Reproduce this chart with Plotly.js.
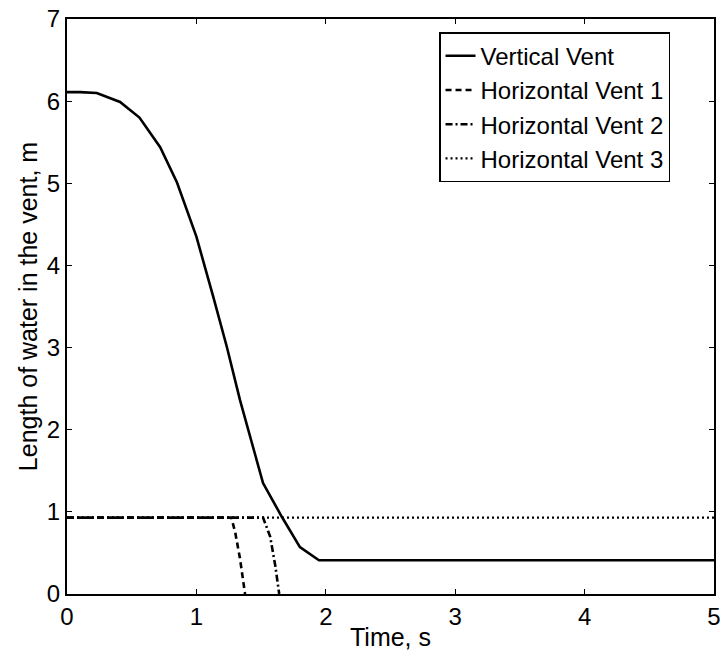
<!DOCTYPE html>
<html>
<head>
<meta charset="utf-8">
<script src="https://cdn.plot.ly/plotly-3.0.1.min.js"></script>
<style>html,body{margin:0;padding:0;background:#fff;}</style>
</head>
<body>
<div id="chart" style="width:723px;height:659px;"></div>
<script>
// Vertical vent
const vertT = [0, 0.1, 0.23, 0.41, 0.56, 0.72, 0.85, 1.0, 1.13, 1.235, 1.337, 1.40, 1.44, 1.515, 1.66, 1.80, 1.947, 5];
const vertL = [6.11, 6.11, 6.10, 5.99, 5.80, 5.44, 5.01, 4.35, 3.62, 3.01, 2.36, 2.0, 1.75, 1.35, 0.94, 0.57, 0.41, 0.41];
// Horizontal vent 1
const h1T = [0, 1.27, 1.30, 1.337, 1.376];
const h1L = [0.93, 0.93, 0.75, 0.43, 0];
// Horizontal vent 2
const h2T = [0, 1.515, 1.57, 1.61, 1.64];
const h2L = [0.93, 0.93, 0.70, 0.34, 0];
// Horizontal vent 3
const h3T = [0, 5];
const h3L = [0.93, 0.93];

const names = ["Vertical Vent", "Horizontal Vent 1", "Horizontal Vent 2", "Horizontal Vent 3"];
const xTicks = [0, 1, 2, 3, 4, 5];
const yTicks = [0, 1, 2, 3, 4, 5, 6, 7];

const traces = [
  {x: vertT, y: vertL, name: names[0], mode: "lines", line: {color: "#000", width: 2.6, dash: "solid", shape: "linear"}},
  {x: h1T, y: h1L, name: names[1], mode: "lines", line: {color: "#000", width: 2.6, dash: "6px,4px"}},
  {x: h2T, y: h2L, name: names[2], mode: "lines", line: {color: "#000", width: 2.6, dash: "7px,3px,2px,3px"}},
  {x: h3T, y: h3L, name: names[3], mode: "lines", line: {color: "#000", width: 2.2, dash: "2px,3px"}}
];

const FONT = "Liberation Sans, Arial, sans-serif";
const axisCommon = {
  showline: true, linecolor: "#000", linewidth: 2, mirror: "ticks",
  ticks: "inside", ticklen: 5, tickwidth: 1.2, tickcolor: "#000",
  showgrid: false, zeroline: false,
  tickfont: {family: FONT, size: 24, color: "#000"}
};

const layout = {
  width: 723, height: 659,
  margin: {l: 67, r: 9, t: 19, b: 65},
  paper_bgcolor: "#fff", plot_bgcolor: "#fff",
  font: {family: FONT, color: "#000"},
  xaxis: Object.assign({}, axisCommon, {
    range: [0, 5], tickvals: xTicks, ticktext: xTicks.map(String),
    title: {text: "Time, s", font: {family: FONT, size: 25, color: "#000"}, standoff: 0}
  }),
  yaxis: Object.assign({}, axisCommon, {
    range: [0, 7], tickvals: yTicks, ticktext: yTicks.map(String),
    title: {text: "Length of water in the vent, m", font: {family: FONT, size: 25, color: "#000"}, standoff: 2}
  }),
  showlegend: true,
  legend: {
    x: 0.575, y: 0.977, xanchor: "left", yanchor: "top",
    bgcolor: "#fff", bordercolor: "#000", borderwidth: 1.5,
    font: {family: FONT, size: 24, color: "#000"},
    tracegroupgap: 0, itemwidth: 30
  }
};

Plotly.newPlot("chart", traces, layout, {staticPlot: true, displayModeBar: false});
</script>
</body>
</html>
